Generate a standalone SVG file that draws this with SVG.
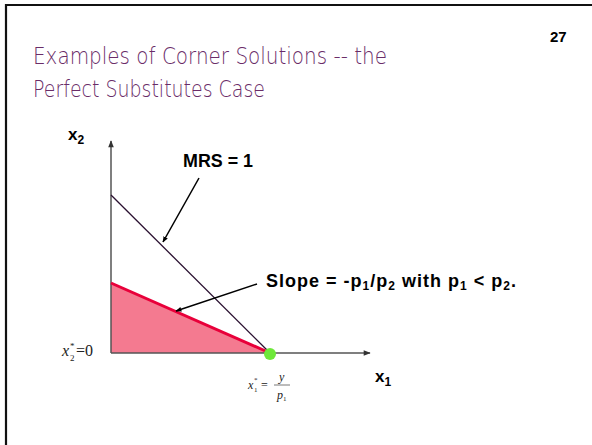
<svg xmlns="http://www.w3.org/2000/svg" width="592" height="445" viewBox="0 0 592 445">
<style>
.lbl{font-family:"Liberation Sans",Arial,sans-serif;font-weight:bold;fill:#000}
.math{font-family:"Liberation Serif","Times New Roman",serif;fill:#222}
.title{font-family:"DejaVu Sans",sans-serif;font-weight:200;fill:#6a2c68}
.ptr{stroke:#000;stroke-width:1.5;fill:none}
.axis{stroke:#555;stroke-width:1.5;fill:none}
</style>
<defs>
<marker id="ah" viewBox="0 0 10 10" refX="9" refY="5" markerWidth="6" markerHeight="6" orient="auto" markerUnits="userSpaceOnUse"><path d="M0,1 L10,5 L0,9 z" fill="#000"/></marker>
<marker id="ax" viewBox="0 0 10 10" refX="9" refY="5" markerWidth="9" markerHeight="7" orient="auto" markerUnits="userSpaceOnUse"><path d="M0,1 L10,5 L0,9 z" fill="#333"/></marker>
</defs>
<rect width="592" height="445" fill="#fff"/>
<path d="M6,445 V5 H592" stroke="#111" stroke-width="2.2" fill="none"/>
<text class="lbl" x="550" y="42" font-size="15">27</text>
<text class="title" x="33" y="64" font-size="23" textLength="354" lengthAdjust="spacingAndGlyphs">Examples of Corner Solutions -- the</text>
<text class="title" x="33" y="97" font-size="23" textLength="232" lengthAdjust="spacingAndGlyphs">Perfect Substitutes Case</text>
<g id="budget-set">
<polygon points="111,283 111,353 270,353" fill="#f47a90"/>
</g>
<g id="axes">
<line class="axis" x1="111" y1="353" x2="111" y2="141" marker-end="url(#ax)"/>
<line class="axis" x1="111" y1="353" x2="370" y2="353" marker-end="url(#ax)"/>
<text class="lbl" x="68" y="140" font-size="17">x<tspan font-size="12" dy="4">2</tspan></text>
<text class="lbl" x="375" y="382" font-size="17">x<tspan font-size="12" dy="4">1</tspan></text>
</g>
<g id="indifference-line">
<line x1="111" y1="195" x2="270" y2="353" stroke="#2a1030" stroke-width="1.3"/>
</g>
<g id="budget-line">
<line x1="111" y1="283" x2="270" y2="353" stroke="#e8003a" stroke-width="3"/>
</g>
<g id="corner-point">
<circle cx="270" cy="354" r="6" fill="#6ee83a"/>
</g>
<g id="connectors">
<line class="ptr" x1="199" y1="178" x2="163" y2="242" marker-end="url(#ah)"/>
<line class="ptr" x1="257" y1="284" x2="176" y2="311" marker-end="url(#ah)"/>
</g>
<g id="mrs-label">
<text class="lbl" x="183" y="167" font-size="18" textLength="70" lengthAdjust="spacingAndGlyphs">MRS = 1</text>
</g>
<g id="slope-label">
<text class="lbl" x="266" y="287" font-size="18" textLength="250" lengthAdjust="spacing">Slope = -p<tspan font-size="12" dy="3">1</tspan><tspan dy="-3">/p</tspan><tspan font-size="12" dy="3">2</tspan><tspan dy="-3"> with p</tspan><tspan font-size="12" dy="3">1</tspan><tspan dy="-3"> &lt; p</tspan><tspan font-size="12" dy="3">2</tspan><tspan dy="-3">.</tspan></text>
</g>
<g id="x2-star">
<text class="math" x="62" y="356" font-size="16" font-style="italic">x</text>
<text class="math" x="70" y="361" font-size="9">2</text>
<text class="math" x="70" y="349" font-size="9">*</text>
<text class="math" x="76" y="356" font-size="16">=0</text>
</g>
<g id="x1-star">
<text class="math" x="248" y="389" font-size="12" font-style="italic">x</text>
<text class="math" x="254" y="392" font-size="7">1</text>
<text class="math" x="254" y="382" font-size="7">*</text>
<text class="math" x="261" y="389" font-size="12">=</text>
<line x1="274" y1="385" x2="290" y2="385" stroke="#555" stroke-width="0.8"/>
<text class="math" x="279" y="381" font-size="12" font-style="italic">y</text>
<text class="math" x="277" y="399" font-size="12" font-style="italic">p</text>
<text class="math" x="283" y="401" font-size="7">1</text>
</g>
</svg>
